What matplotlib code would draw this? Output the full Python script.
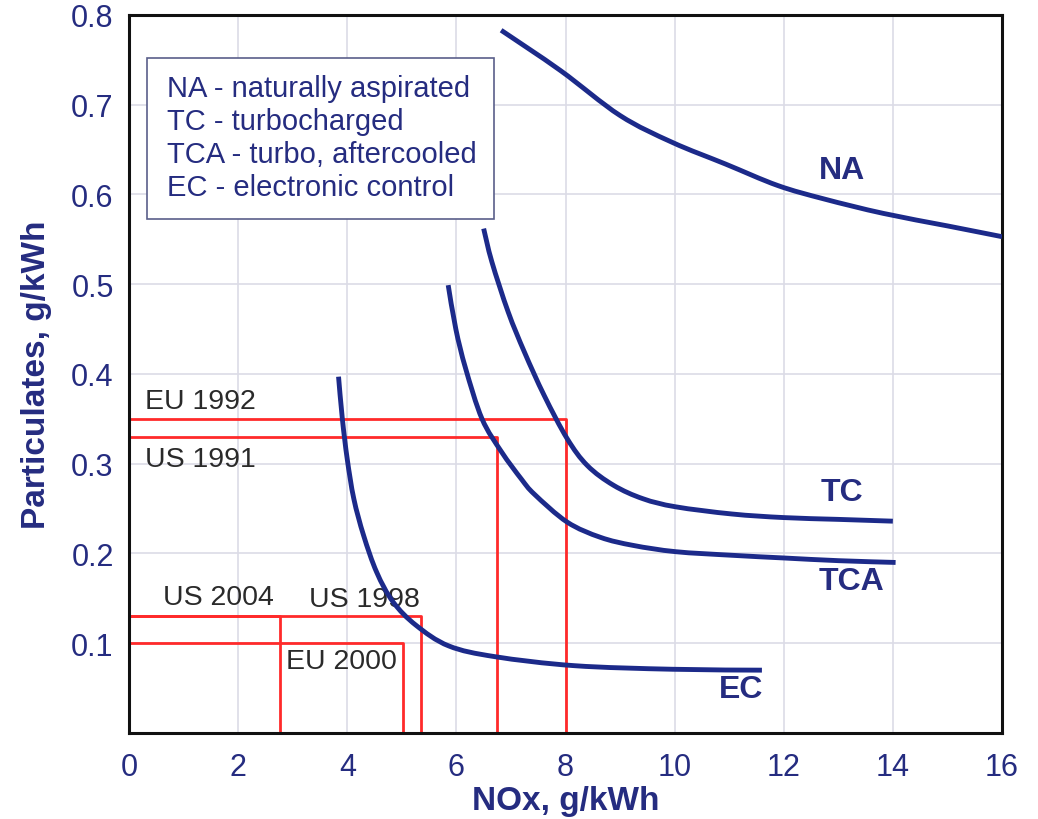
import numpy as np
import matplotlib
matplotlib.use("Agg")
import matplotlib.pyplot as plt
from matplotlib.patches import Rectangle, PathPatch
from matplotlib.path import Path

plt.rcParams['font.family'] = ['Liberation Sans', 'DejaVu Sans']

NAVY = '#1c2a8a'
TEXT_NAVY = '#252c80'
RED = '#ff2a2a'

# engine technology curves (NOx vs particulates, g/kWh)
na_x = [6.82, 7.91, 9.0, 9.96, 10.93, 11.89, 12.74, 13.82, 15.0, 16.0]
na_y = [0.783, 0.738, 0.688, 0.658, 0.634, 0.610, 0.595, 0.579, 0.565, 0.553]

tc_x = [6.5, 6.65, 6.95, 7.25, 7.61, 8.03, 8.40, 8.88, 9.42, 10.02, 11.05, 12.0, 13.0, 14.0]
tc_y = [0.562, 0.525, 0.469, 0.424, 0.376, 0.328, 0.298, 0.276, 0.261, 0.252, 0.244, 0.240, 0.238, 0.236]

tca_x = [5.85, 5.99, 6.17, 6.47, 6.83, 7.19, 7.43, 8.03, 8.64, 9.24, 10.02, 11.05, 12.0, 13.0, 14.05]
tca_y = [0.499, 0.450, 0.406, 0.350, 0.313, 0.283, 0.266, 0.235, 0.218, 0.209, 0.202, 0.198, 0.195, 0.192, 0.190]

ec_x = [3.84, 3.91, 4.0, 4.12, 4.30, 4.54, 4.84, 5.26, 5.86, 6.71, 8.16, 9.96, 11.6]
ec_y = [0.397, 0.350, 0.305, 0.261, 0.220, 0.179, 0.146, 0.120, 0.097, 0.085, 0.075, 0.071, 0.070]

curves = [
    (na_x, na_y, 'NA', 13.07, 0.627),
    (tc_x, tc_y, 'TC', 13.06, 0.269),
    (tca_x, tca_y, 'TCA', 13.25, 0.169),
    (ec_x, ec_y, 'EC', 11.21, 0.049),
]

# emission limits
limit_names = ['EU 1992', 'US 1991', 'US 1998', 'US 2004', 'EU 2000']
limit_nox = [8.0, 6.75, 5.35, 2.77, 5.02]
limit_pm = [0.35, 0.33, 0.13, 0.13, 0.10]

legend_lines = [
    'NA - naturally aspirated',
    'TC - turbocharged',
    'TCA - turbo, aftercooled',
    'EC - electronic control',
]

x_ticks = [0, 2, 4, 6, 8, 10, 12, 14, 16]
y_ticks = [0.1, 0.2, 0.3, 0.4, 0.5, 0.6, 0.7, 0.8]


def smooth_path(xs, ys):
    # Catmull-Rom spline through the points, as cubic bezier segments
    pts = np.column_stack([xs, ys])
    verts = [pts[0]]
    codes = [Path.MOVETO]
    n = len(pts)
    for i in range(n - 1):
        p0 = pts[i - 1] if i > 0 else pts[i]
        p1, p2 = pts[i], pts[i + 1]
        p3 = pts[i + 2] if i + 2 < n else pts[i + 1]
        verts += [p1 + (p2 - p0) / 6, p2 - (p3 - p1) / 6, p2]
        codes += [Path.CURVE4] * 3
    return Path(verts, codes)


fig = plt.figure(figsize=(10.38, 8.2), dpi=100)
ax = fig.add_axes([0.1243, 0.1049, 0.8410, 0.8756])
ax.set_xlim(0, 16)
ax.set_ylim(0, 0.8)

ax.set_xticks(x_ticks)
ax.set_yticks(y_ticks)
ax.set_yticklabels([f'{v:.1f}' for v in y_ticks])
ax.tick_params(axis='both', length=0, labelsize=22, labelcolor=TEXT_NAVY)
ax.tick_params(axis='x', pad=14)
ax.tick_params(axis='y', pad=11)
ax.grid(True, color='#dcdce6', linewidth=1.2)
ax.set_axisbelow(True)
for sp in ax.spines.values():
    sp.set_linewidth(2.2)
    sp.set_color('#111111')

ax.set_xlabel('NOx, g/kWh', fontsize=24, fontweight='bold', color=TEXT_NAVY, labelpad=2)
ax.set_ylabel('Particulates, g/kWh', fontsize=24, fontweight='bold', color=TEXT_NAVY, labelpad=14)

# limit boxes
for name, nx, pm in zip(limit_names, limit_nox, limit_pm):
    ax.plot([0, nx, nx], [pm, pm, 0], color=RED, linewidth=2, zorder=2)

label_pos = {
    'EU 1992': (0.29, 0.370),
    'US 1991': (0.29, 0.305),
    'US 2004': (0.62, 0.152),
    'US 1998': (3.29, 0.149),
    'EU 2000': (2.88, 0.080),
}
for name in limit_names:
    lx, ly = label_pos[name]
    ax.text(lx, ly, name, fontsize=20.5, color='#2a2a2a', ha='left', va='center', zorder=3)

for cx, cy, label, tx, ty in curves:
    ax.add_patch(PathPatch(smooth_path(cx, cy), fill=False, edgecolor=NAVY,
                           linewidth=3.5, capstyle='butt', zorder=4))
    ax.text(tx, ty, label, fontsize=23, fontweight='bold', color=TEXT_NAVY,
            ha='center', va='center', zorder=5)

# key box
ax.add_patch(Rectangle((0.33, 0.573), 6.36, 0.1795, facecolor='white',
                       edgecolor='#5a5f8a', linewidth=1.2, zorder=6))
for i, line in enumerate(legend_lines):
    ax.text(0.7, 0.719 - i * 0.0367, line, fontsize=21, color=TEXT_NAVY,
            ha='left', va='center', zorder=7)

fig.savefig('out.png', dpi=100)
